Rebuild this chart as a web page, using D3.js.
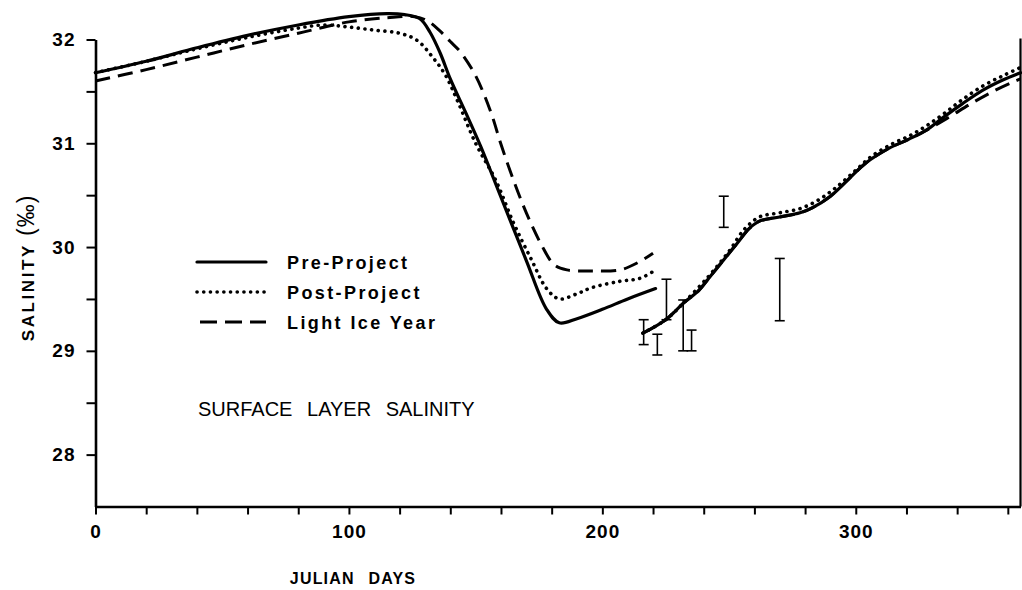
<!DOCTYPE html>
<html>
<head>
<meta charset="utf-8">
<script src="https://cdn.jsdelivr.net/npm/d3@7"></script>
<style>
  html, body { margin: 0; padding: 0; background: #fff; }
  svg { display: block; }
  text { font-family: "Liberation Sans", Arial, Helvetica, sans-serif; fill: #000; }
</style>
</head>
<body>
<svg id="chart" width="1022" height="590"></svg>
<script>
// ---------- DATA ----------
// Pre-Project (solid), first segment (spring/summer) and second segment (late summer/fall)
const preDays1 = [0, 20, 40, 60, 80, 100, 115, 122, 128, 132, 136, 140, 146, 152, 160, 170, 178, 183, 190, 200, 210, 221];
const preSal1  = [31.68, 31.79, 31.92, 32.04, 32.14, 32.22, 32.25, 32.24, 32.20, 32.07, 31.87, 31.62, 31.30, 30.97, 30.48, 29.87, 29.40, 29.27, 29.31, 29.40, 29.50, 29.60];
const preDays2 = [216, 225, 232, 238, 242, 248, 253, 258, 262, 270, 278, 283, 290, 297, 304, 313, 321, 328, 334, 342, 350, 358, 365];
const preSal2  = [29.17, 29.30, 29.46, 29.58, 29.70, 29.88, 30.03, 30.18, 30.25, 30.29, 30.33, 30.38, 30.49, 30.65, 30.81, 30.95, 31.04, 31.13, 31.24, 31.38, 31.51, 31.61, 31.68];

// Post-Project (dotted)
const postDays1 = [0, 20, 40, 60, 80, 90, 100, 110, 120, 127, 133, 138, 143, 150, 158, 165, 172, 178, 183, 190, 196, 207, 215, 221];
const postSal1  = [31.68, 31.79, 31.91, 32.02, 32.11, 32.14, 32.12, 32.09, 32.06, 31.99, 31.83, 31.66, 31.40, 31.00, 30.64, 30.23, 29.88, 29.60, 29.50, 29.55, 29.61, 29.67, 29.70, 29.78];
const postDays2 = [216, 225, 232, 242, 250, 256, 262, 270, 278, 285, 292, 300, 306, 314, 321, 328, 335, 342, 350, 358, 365];
const postSal2  = [29.17, 29.30, 29.46, 29.72, 29.96, 30.17, 30.29, 30.33, 30.37, 30.45, 30.57, 30.74, 30.87, 30.99, 31.07, 31.17, 31.29, 31.42, 31.55, 31.65, 31.73];

// Light Ice Year (dashed)
const iceDays1 = [0, 20, 40, 60, 80, 100, 115, 126, 131, 136, 140, 144, 150, 156, 160, 165, 170, 176, 181, 186, 195, 207, 214, 220];
const iceSal1  = [31.60, 31.71, 31.83, 31.95, 32.06, 32.17, 32.21, 32.22, 32.18, 32.08, 31.98, 31.88, 31.65, 31.30, 30.99, 30.64, 30.33, 30.02, 29.83, 29.78, 29.77, 29.78, 29.85, 29.94];
const iceDays2 = [216, 225, 232, 238, 242, 248, 253, 258, 262, 270, 278, 283, 290, 297, 304, 313, 321, 326, 336, 346, 355, 362, 365];
const iceSal2  = [29.17, 29.30, 29.46, 29.58, 29.70, 29.88, 30.03, 30.18, 30.25, 30.29, 30.33, 30.38, 30.49, 30.65, 30.81, 30.95, 31.04, 31.10, 31.24, 31.39, 31.51, 31.59, 31.62];

// Observed ranges (I-bars)
const obsDays = [216.3, 221.7, 225.3, 231.9, 235.2, 247.9, 270.0];
const obsLow  = [29.06, 28.96, 29.30, 29.00, 29.00, 30.19, 29.29];
const obsHigh = [29.30, 29.16, 29.69, 29.49, 29.20, 30.49, 29.89];

// Axis ticks
const xTicks = d3.range(0, 361, 20);
const xLabels = [0, 100, 200, 300];
const yTicks = [28, 28.5, 29, 29.5, 30, 30.5, 31, 31.5, 32];
const yLabels = [28, 29, 30, 31, 32];

const seriesNames = ["Pre-Project", "Post-Project", "Light Ice Year"];

// ---------- LAYOUT ----------
const svg = d3.select("#chart");
const x = d3.scaleLinear().domain([0, 365]).range([95.5, 1020.5]);
const y = d3.scaleLinear().domain([27.5, 32]).range([506.5, 39.5]);

const styles = {
  "Pre-Project":   { dash: null,        cap: "round", width: 3.2 },
  "Post-Project":  { dash: "0.1,6.6",   cap: "round", width: 3.6 },
  "Light Ice Year":{ dash: "15,8",      cap: "butt",  width: 3.0 }
};

function zip(days, vals) { return days.map((d, i) => [d, vals[i]]); }
const line = d3.line().x(d => x(d[0])).y(d => y(d[1])).curve(d3.curveCatmullRom.alpha(0.5));

// ---------- AXES ----------
const xAxis = d3.axisBottom(x).tickValues(xTicks).tickSize(8).tickSizeOuter(0).tickPadding(10)
  .tickFormat(d => xLabels.includes(d) ? d : "");
const gx = svg.append("g").attr("transform", `translate(0,${y(27.5)})`).call(xAxis);
gx.select(".domain").attr("stroke-width", 2.6);
gx.selectAll(".tick line").attr("stroke-width", 2);
gx.selectAll("text").style("font-size", "19px").style("font-weight", "bold").style("letter-spacing", "1px").attr("fill", "#000");

const yAxis = d3.axisLeft(y).tickValues(yTicks).tickSize(9).tickSizeOuter(0).tickPadding(11)
  .tickFormat(d => yLabels.includes(d) ? d : "");
const gy = svg.append("g").attr("transform", `translate(${x(0)},0)`).call(yAxis);
gy.select(".domain").attr("stroke-width", 2.6);
gy.selectAll(".tick line").attr("stroke-width", 2);
gy.selectAll("text").style("font-size", "19px").style("font-weight", "bold").style("letter-spacing", "1px").attr("fill", "#000");

// right border
svg.append("line")
  .attr("x1", x(365)).attr("x2", x(365))
  .attr("y1", y(27.5)).attr("y2", y(32) - 1)
  .attr("stroke", "#000").attr("stroke-width", 2.2);

// ---------- LINES ----------
const seriesData = {
  "Light Ice Year": [zip(iceDays1, iceSal1), zip(iceDays2, iceSal2)],
  "Post-Project":   [zip(postDays1, postSal1), zip(postDays2, postSal2)],
  "Pre-Project":    [zip(preDays1, preSal1), zip(preDays2, preSal2)]
};
["Light Ice Year", "Post-Project", "Pre-Project"].forEach(name => {
  const st = styles[name];
  seriesData[name].forEach(seg => {
    svg.append("path")
      .datum(seg)
      .attr("d", line)
      .attr("fill", "none")
      .attr("stroke", "#000")
      .attr("stroke-width", st.width)
      .attr("stroke-linecap", st.cap)
      .attr("stroke-dasharray", st.dash);
  });
});

// ---------- OBSERVATION BARS ----------
const gObs = svg.append("g").attr("stroke", "#000").attr("stroke-width", 1.6);
obsDays.forEach((d, i) => {
  const cx = x(d);
  gObs.append("line").attr("x1", cx).attr("x2", cx).attr("y1", y(obsLow[i])).attr("y2", y(obsHigh[i]));
  gObs.append("line").attr("x1", cx - 5).attr("x2", cx + 5).attr("y1", y(obsLow[i])).attr("y2", y(obsLow[i]));
  gObs.append("line").attr("x1", cx - 5).attr("x2", cx + 5).attr("y1", y(obsHigh[i])).attr("y2", y(obsHigh[i]));
});

// ---------- LEGEND ----------
const legend = svg.append("g");
seriesNames.forEach((name, i) => {
  const ly = 262 + i * 30;
  const st = styles[name];
  legend.append("line")
    .attr("x1", name === "Light Ice Year" ? 200 : 197).attr("x2", 266)
    .attr("y1", ly).attr("y2", ly)
    .attr("stroke", "#000").attr("stroke-width", st.width)
    .attr("stroke-linecap", st.cap)
    .attr("stroke-dasharray", name === "Light Ice Year" ? "17,8" : st.dash);
  legend.append("text")
    .attr("x", 287).attr("y", ly + 6.5)
    .style("font-size", "18px").style("font-weight", "bold").style("letter-spacing", "2.4px")
    .text(name);
});

// ---------- TEXT ----------
svg.append("text")
  .attr("x", 198).attr("y", 416)
  .style("font-size", "20px").style("word-spacing", "9px")
  .text("SURFACE LAYER SALINITY");

svg.append("text")
  .attr("x", 353).attr("y", 584)
  .attr("text-anchor", "middle")
  .style("font-size", "16px").style("font-weight", "bold").style("letter-spacing", "1.2px").style("word-spacing", "8px")
  .text("JULIAN DAYS");

const yl = svg.append("text")
  .attr("transform", "translate(34,268) rotate(-90)")
  .attr("text-anchor", "middle")
  .style("font-weight", "bold");
yl.append("tspan").style("font-size", "17px").style("letter-spacing", "2.6px").text("SALINITY ");
yl.append("tspan").style("font-size", "23px").style("font-weight", "normal").style("letter-spacing", "1px").text("(‰)");
</script>
</body>
</html>
